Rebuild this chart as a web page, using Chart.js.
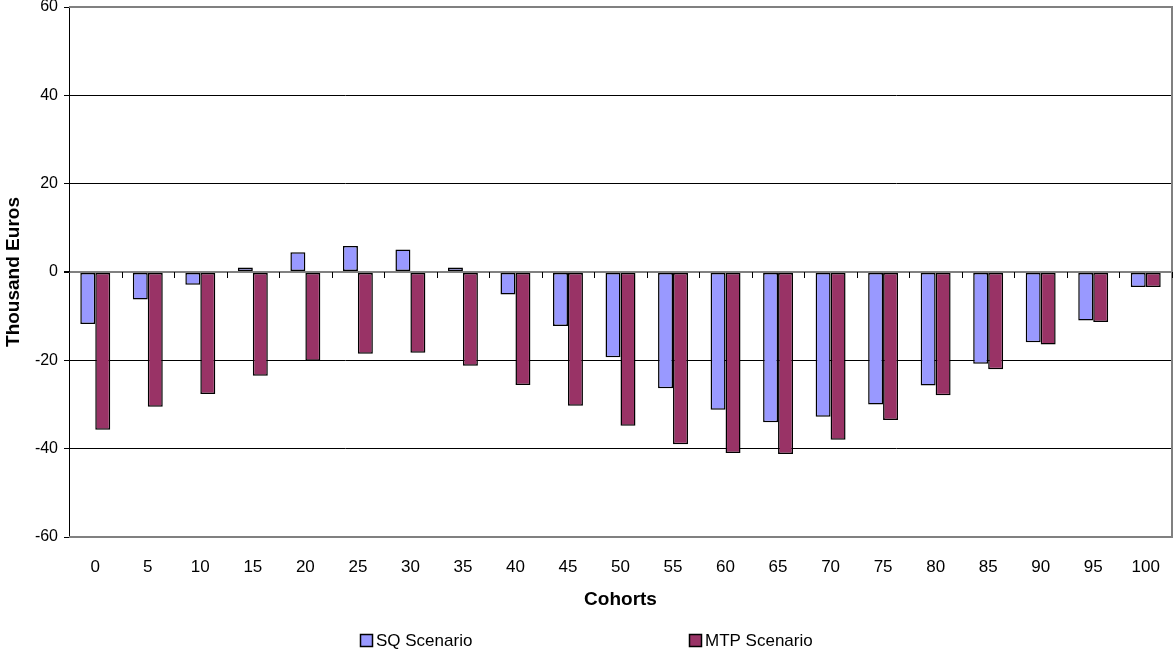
<!DOCTYPE html>
<html>
<head>
<meta charset="utf-8">
<script src="https://cdn.jsdelivr.net/npm/chart.js@4"></script>
<style>
  html, body { margin: 0; padding: 0; background: #fff; }
  #wrap { width: 1174px; height: 652px; position: relative; }
</style>
</head>
<body>
<div id="wrap"><canvas id="c"></canvas></div>
<script>
// Cohort balance change per scenario.
const cohorts = ['0', '5', '10', '15', '20', '25', '30', '35', '40', '45', '50',
  '55', '60', '65', '70', '75', '80', '85', '90', '95', '100'];
const sqScenario = [-11.8, -6.2, -2.9, 1.0, 4.5, 5.9, 5.1, 1.0, -5.1, -12.2, -19.3,
  -26.3, -31.2, -34.0, -32.8, -30.0, -25.7, -20.8, -15.9, -11.0, -3.4];
const mtpScenario = [-35.7, -30.5, -27.6, -23.5, -20.1, -18.5, -18.3, -21.2, -25.6, -30.3, -34.8,
  -39.0, -41.0, -41.2, -38.0, -33.5, -27.9, -22.0, -16.4, -11.3, -3.4];
const yTicks = [-60, -40, -20, 0, 20, 40, 60];

const FONT = 'Arial, "Liberation Sans", sans-serif';
const SQ_COLOR = '#9999ff';
const MTP_COLOR = '#993366';
const GRAY = '#808080';

// Gray frame on top/right/bottom, plus small downward ticks on the zero line
// between cohorts (Excel-style category ticks).
const framePlugin = {
  id: 'frame',
  afterDatasetsDraw(chart) {
    const { ctx, chartArea: a } = chart;
    const y0 = chart.scales.y.getPixelForValue(0);
    ctx.save();
    ctx.strokeStyle = GRAY;
    ctx.lineWidth = 2;
    ctx.beginPath();
    ctx.moveTo(a.left, a.top);
    ctx.lineTo(a.right, a.top);
    ctx.lineTo(a.right, a.bottom);
    ctx.lineTo(a.left, a.bottom);
    ctx.stroke();
    ctx.strokeStyle = '#000';
    ctx.lineWidth = 1;
    const step = (a.right - a.left) / cohorts.length;
    ctx.beginPath();
    for (let i = 1; i <= cohorts.length; i++) {
      const px = Math.round(a.left + step * i) + 0.5;
      ctx.moveTo(px, y0);
      ctx.lineTo(px, y0 + 6);
    }
    ctx.stroke();
    ctx.restore();
  },
};

// Legend spread wide across the bottom like the original.
const legendPlugin = {
  id: 'wideLegend',
  afterDraw(chart) {
    const { ctx } = chart;
    const items = [
      { label: chart.data.datasets[0].label, color: SQ_COLOR, x: 360 },
      { label: chart.data.datasets[1].label, color: MTP_COLOR, x: 689 },
    ];
    ctx.save();
    ctx.font = '17px ' + FONT;
    ctx.textBaseline = 'middle';
    items.forEach((it) => {
      ctx.fillStyle = it.color;
      ctx.fillRect(it.x, 634, 12, 12);
      ctx.strokeStyle = '#000';
      ctx.lineWidth = 1.5;
      ctx.strokeRect(it.x + 0.5, 634.5, 12, 12);
      ctx.fillStyle = '#000';
      ctx.fillText(it.label, it.x + 16, 641);
    });
    ctx.restore();
  },
};

new Chart(document.getElementById('c'), {
  type: 'bar',
  data: {
    labels: cohorts,
    datasets: [
      { label: 'SQ Scenario', data: sqScenario, backgroundColor: SQ_COLOR,
        borderColor: '#000', borderWidth: 1.5, borderSkipped: false },
      { label: 'MTP Scenario', data: mtpScenario, backgroundColor: MTP_COLOR,
        borderColor: '#000', borderWidth: 1.5, borderSkipped: false },
    ],
  },
  options: {
    responsive: true, maintainAspectRatio: false, animation: false,
    layout: { padding: { top: 7, right: 2, left: 0, bottom: 40 } },
    datasets: { bar: { categoryPercentage: 0.57, barPercentage: 1 } },
    scales: {
      x: {
        offset: true,
        grid: { display: false, drawTicks: false },
        border: { display: false },
        ticks: { color: '#000', font: { family: FONT, size: 17 }, padding: 20, maxRotation: 0 },
        title: { display: true, text: 'Cohorts', color: '#000',
                 font: { family: FONT, size: 19, weight: 'bold' }, padding: { top: 0, bottom: 1 } },
        afterFit(scale) {
          scale.height = 75;
          scale.paddingLeft = 0; scale.paddingRight = 0;
        },
      },
      y: {
        min: -60, max: 60,
        afterBuildTicks(scale) { scale.ticks = yTicks.map((v) => ({ value: v })); },
        grid: {
          color: (c) => (c.tick && (c.tick.value === 0 || Math.abs(c.tick.value) === 60) ? GRAY : '#000'),
          lineWidth: (c) => (c.tick && c.tick.value === 0 ? 2 : 1),
          tickColor: '#000', tickLength: 5,
        },
        border: { display: true, color: '#000', width: 1 },
        ticks: { color: '#000', font: { family: FONT, size: 16 }, padding: 6 },
        title: { display: true, text: 'Thousand Euros', color: '#000',
                 font: { family: FONT, size: 19, weight: 'bold' }, padding: { top: 2, bottom: 0 } },
        afterFit(scale) {
          scale.width = 69;
          scale.paddingTop = 0; scale.paddingBottom = 0;
        },
      },
    },
    plugins: { legend: { display: false }, tooltip: { enabled: false } },
  },
  plugins: [framePlugin, legendPlugin],
});
</script>
</body>
</html>
